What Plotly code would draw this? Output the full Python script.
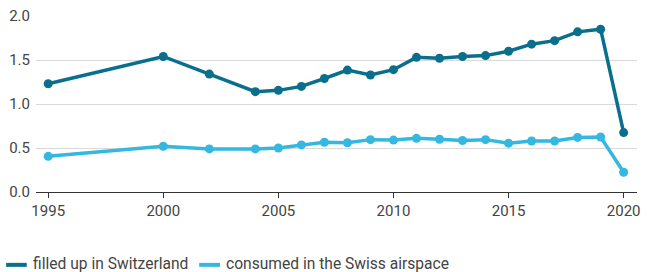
import plotly.graph_objects as go

years = [1995, 2000, 2002, 2004, 2005, 2006, 2007, 2008, 2009, 2010,
         2011, 2012, 2013, 2014, 2015, 2016, 2017, 2018, 2019, 2020]
filled_up = [1.23, 1.54, 1.34, 1.14, 1.155, 1.20, 1.29, 1.385, 1.33, 1.39,
             1.53, 1.52, 1.54, 1.55, 1.60, 1.68, 1.72, 1.82, 1.85, 0.675]
consumed = [0.405, 0.52, 0.49, 0.49, 0.50, 0.535, 0.565, 0.56, 0.595, 0.59,
            0.61, 0.60, 0.585, 0.595, 0.555, 0.58, 0.58, 0.62, 0.625, 0.225]
series_names = ["filled up in Switzerland", "consumed in the Swiss airspace"]
x_ticks = [1995, 2000, 2005, 2010, 2015, 2020]
y_ticks = [0.0, 0.5, 1.0, 1.5, 2.0]
y_tick_labels = ["0.0", "0.5", "1.0", "1.5", "2.0"]

dark = "#0a6f8d"
light = "#35b8df"
text_color = "#444444"
font_family = "Roboto"

fig = go.Figure()
for name, vals, col in [(series_names[0], filled_up, dark),
                        (series_names[1], consumed, light)]:
    fig.add_trace(go.Scatter(x=years, y=vals, mode="lines+markers", name=name,
                             line=dict(color=col, width=3.5),
                             marker=dict(color=col, size=9),
                             cliponaxis=False, showlegend=False))

# custom legend (line swatches + labels) below the plot
leg_y = -0.414
swatches = [(-0.0497, -0.0154, dark, -0.0085, series_names[0]),
            (0.2715, 0.3063, light, 0.3135, series_names[1])]
for x0, x1, col, tx, label in swatches:
    fig.add_shape(type="line", xref="paper", yref="paper", x0=x0, x1=x1,
                  y0=leg_y, y1=leg_y, line=dict(color=col, width=4))
    fig.add_annotation(xref="paper", yref="paper", x=tx, y=leg_y + 0.003,
                       xanchor="left", yanchor="middle", text=label,
                       showarrow=False,
                       font=dict(family=font_family, size=15.6, color=text_color))

fig.update_layout(
    width=647, height=272,
    margin=dict(l=36, r=7, t=14, b=80),
    paper_bgcolor="white", plot_bgcolor="white",
    font=dict(family=font_family, size=15, color=text_color),
    showlegend=False,
    xaxis=dict(range=[1994.47, 2020.58], tickvals=x_ticks, showgrid=False,
               zeroline=False, showline=True, linecolor="#333333", linewidth=1,
               ticks="outside", ticklen=5, tickcolor="#333333",
               tickfont=dict(size=15, color=text_color)),
    yaxis=dict(range=[0, 2.0], tickvals=y_ticks, ticktext=y_tick_labels,
               showgrid=True, gridcolor="#d9d9d9", gridwidth=1,
               zeroline=False, showline=False, ticks="", ticklabelstandoff=5,
               tickfont=dict(size=15, color=text_color)),
)

fig.write_html("out.html", config={"displayModeBar": False},
               post_script="document.body.style.margin='0';")
